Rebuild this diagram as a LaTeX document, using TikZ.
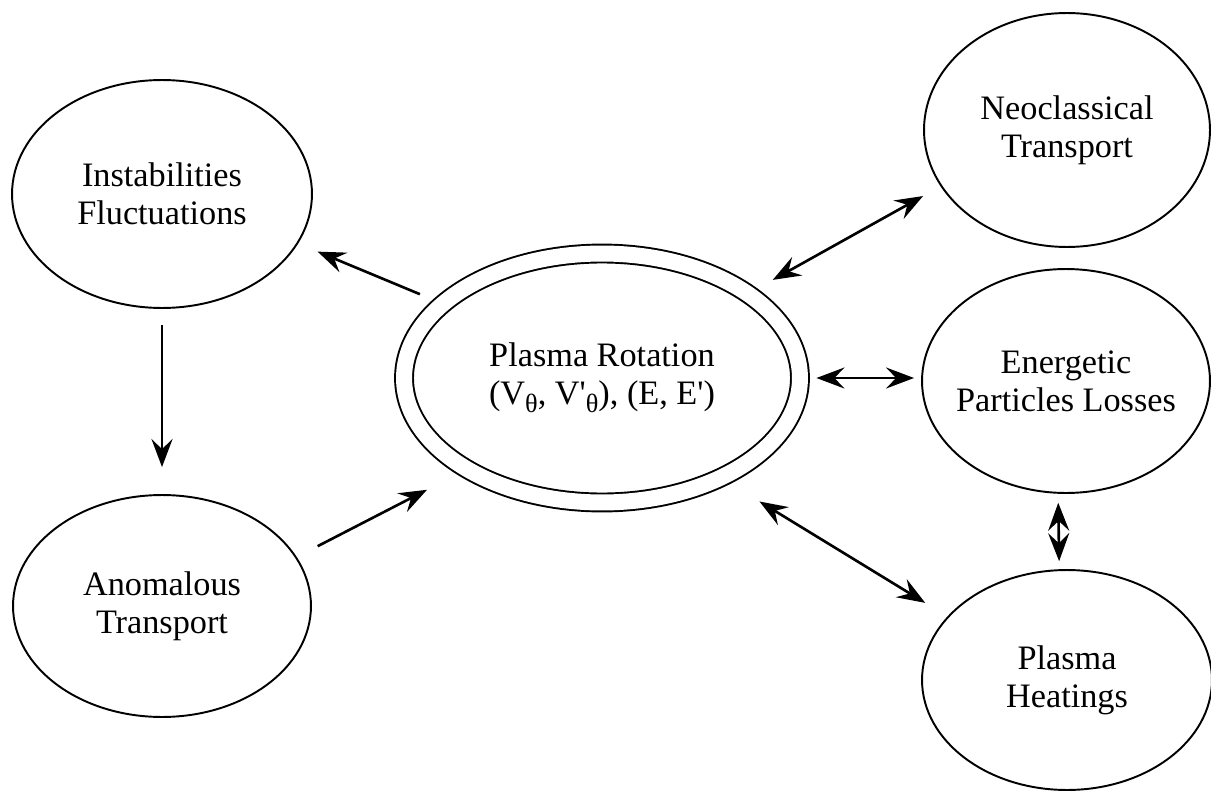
\documentclass[tikz,border=0pt]{standalone}
\usepackage{fontspec}
\setmainfont{Liberation Serif}
\usetikzlibrary{arrows.meta,shapes.geometric}

\newcommand{\thsub}{\raisebox{-0.55ex}{\fontsize{15}{15}\selectfont θ}}

\begin{document}
\begin{tikzpicture}[x=0.02cm,y=-0.02cm,>={Stealth[length=5.6mm,width=4.2mm,inset=2mm]},
  bubble/.style={draw,ellipse,line width=1.1pt,inner sep=-8pt,align=center,font=\fontsize{19.5}{21.5}\selectfont},
  link/.style={line width=1.5pt}]

\useasboundingbox (0,0) rectangle (1211,791);

\node[bubble,minimum width=6cm,minimum height=4.56cm]   (instab) at (162,194)  {Instabilities\\Fluctuations};
 \node[bubble,minimum width=5.96cm,minimum height=4.44cm] (anom) at (162,606)  {Anomalous\\Transport};
	\node[bubble,double,double distance=3.2mm,minimum width=7.92cm,minimum height=4.98cm] (rot) at (602,378)
		{Plasma Rotation\\(V\thsub, V\textquotesingle\thsub), (E, E\textquotesingle)};
	\node[bubble,minimum width=5.72cm,minimum height=4.68cm] (neo) at (1067,130)  {Neoclassical\\Transport};
	\node[bubble,minimum width=5.76cm,minimum height=4.48cm] (energ) at (1066,381) {Energetic\\Particles Losses};
		\node[bubble,minimum width=5.8cm,minimum height=4.4cm] (heat) at (1067,680)  {Plasma\\Heatings};

	\draw[link,->,shorten <=4.8mm,shorten >=4.2mm] (rot.155.5) -- (instab.-20.6);
	\draw[link,->,shorten <=3.2mm,shorten >=5.4mm] (instab.south) -- (anom.north);
	\draw[link,->,shorten <=4.7mm,shorten >=8.8mm] (anom.20.1) -- (rot.214.3);
	\draw[link,<->,shorten <=5.5mm,shorten >=4mm] (rot.30.1) -- (neo.204);
	\draw[link,<->,shorten <=3.1mm,shorten >=1.4mm] (rot.east) -- (rot.east -| energ.west);
	\draw[link,<->,shorten <=8.9mm,shorten >=5.2mm] (rot.-40.5) -- (heat.152.2);
	\draw[link,<->,shorten <=1.8mm,shorten >=1.6mm] (energ.-94) -- (heat.94.5);

\end{tikzpicture}
\end{document}
